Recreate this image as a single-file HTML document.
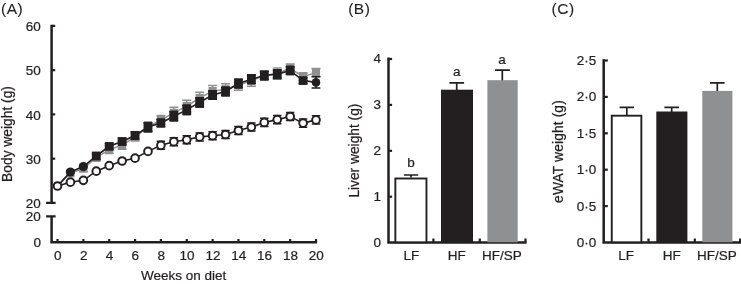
<!DOCTYPE html>
<html><head><meta charset="utf-8"><title>Figure</title>
<style>
html,body{margin:0;padding:0;background:#fff;}
body{width:741px;height:284px;overflow:hidden;}
svg{display:block;filter:blur(0.35px);}
text{font-family:"Liberation Sans",Arial,Helvetica,sans-serif;font-size:13.5px;fill:#231f20;stroke:#231f20;stroke-width:0.22px;}
.pl{font-size:15.5px;letter-spacing:0.5px;stroke-width:0.1px;}
.ax{stroke:#231f20;stroke-width:2.5;fill:none;stroke-linecap:butt;}
.tk{stroke:#231f20;stroke-width:2.2;fill:none;}
.eb{stroke:#231f20;stroke-width:1.7;fill:none;}
</style></head><body>
<svg width="741" height="284" viewBox="0 0 741 284">
<rect width="741" height="284" fill="#fff"/>

<g id="panelA">
<text class="pl" x="1" y="14.2">(A)</text>
<path class="ax" d="M51.6 24.8V203M51.6 216.3V243.6M50.3 242.35H317.1"/>
<path class="tk" d="M51.6 25.9H55.2"/>
<path class="tk" d="M51.6 70.15H55.2"/>
<path class="tk" d="M51.6 114.4H55.2"/>
<path class="tk" d="M51.6 158.65H55.2"/>
<path class="tk" d="M46.1 202.9H55.6M46.1 216.4H55.6" style="stroke-width:2.1"/>
<path class="tk" d="M57.50 242V238.9M83.35 242V238.9M109.20 242V238.9M135.05 242V238.9M160.90 242V238.9M186.75 242V238.9M212.60 242V238.9M238.45 242V238.9M264.30 242V238.9M290.15 242V238.9M316.00 242V238.9"/>
<text x="40.9" y="30.95" text-anchor="end">60</text>
<text x="40.9" y="75.25" text-anchor="end">50</text>
<text x="40.9" y="119.65" text-anchor="end">40</text>
<text x="40.9" y="163.95" text-anchor="end">30</text>
<text x="40.9" y="207.65" text-anchor="end">20</text>
<text x="40.9" y="221.25" text-anchor="end">20</text>
<text x="40.9" y="247.05" text-anchor="end">0</text>
<text x="57.80" y="259.9" text-anchor="middle">0</text>
<text x="83.65" y="259.9" text-anchor="middle">2</text>
<text x="109.50" y="259.9" text-anchor="middle">4</text>
<text x="135.35" y="259.9" text-anchor="middle">6</text>
<text x="161.20" y="259.9" text-anchor="middle">8</text>
<text x="187.05" y="259.9" text-anchor="middle">10</text>
<text x="212.90" y="259.9" text-anchor="middle">12</text>
<text x="238.75" y="259.9" text-anchor="middle">14</text>
<text x="264.60" y="259.9" text-anchor="middle">16</text>
<text x="290.45" y="259.9" text-anchor="middle">18</text>
<text x="316.30" y="259.9" text-anchor="middle">20</text>
<text x="183.6" y="280.4" text-anchor="middle">Weeks on diet</text>
<text transform="translate(11.6 134) rotate(-90)" text-anchor="middle" style="font-size:13.8px">Body weight (g)</text>
<polyline points="57.50,186 70.42,173.2 83.35,168.6 96.28,157.5 109.20,149.6 122.12,145.2 135.05,136.9 147.98,127.2 160.90,120 173.82,112.8 186.75,106.1 199.68,98 212.60,91.1 225.53,89.3 238.45,85 251.38,80.8 264.30,75.5 277.23,73.5 290.15,68.3 303.08,76.7 316.00,72.6" fill="none" stroke="#8e9092" stroke-width="1.5"/>
<rect x="66.33" y="169.10" width="8.2" height="8.2" fill="#8e9092"/>
<path d="M83.35 165.6V171.6M78.85 165.6H87.85M78.85 171.6H87.85" stroke="#8e9092" stroke-width="1.5" fill="none"/>
<rect x="79.25" y="164.50" width="8.2" height="8.2" fill="#8e9092"/>
<path d="M96.28 154.1V160.9M91.78 154.1H100.78M91.78 160.9H100.78" stroke="#8e9092" stroke-width="1.5" fill="none"/>
<rect x="92.18" y="153.40" width="8.2" height="8.2" fill="#8e9092"/>
<path d="M109.20 145.6V153.6M104.70 145.6H113.70M104.70 153.6H113.70" stroke="#8e9092" stroke-width="1.5" fill="none"/>
<rect x="105.10" y="145.50" width="8.2" height="8.2" fill="#8e9092"/>
<path d="M122.12 141.2V149.2M117.62 141.2H126.62M117.62 149.2H126.62" stroke="#8e9092" stroke-width="1.5" fill="none"/>
<rect x="118.03" y="141.10" width="8.2" height="8.2" fill="#8e9092"/>
<path d="M135.05 132.9V140.9M130.55 132.9H139.55M130.55 140.9H139.55" stroke="#8e9092" stroke-width="1.5" fill="none"/>
<rect x="130.95" y="132.80" width="8.2" height="8.2" fill="#8e9092"/>
<path d="M147.98 123.2V131.2M143.48 123.2H152.48M143.48 131.2H152.48" stroke="#8e9092" stroke-width="1.5" fill="none"/>
<rect x="143.88" y="123.10" width="8.2" height="8.2" fill="#8e9092"/>
<path d="M160.90 115.4V124.6M156.40 115.4H165.40M156.40 124.6H165.40" stroke="#8e9092" stroke-width="1.5" fill="none"/>
<rect x="156.80" y="115.90" width="8.2" height="8.2" fill="#8e9092"/>
<path d="M173.82 107.2V118.39999999999999M169.32 107.2H178.32M169.32 118.39999999999999H178.32" stroke="#8e9092" stroke-width="1.5" fill="none"/>
<rect x="169.72" y="108.70" width="8.2" height="8.2" fill="#8e9092"/>
<path d="M186.75 100.3V111.89999999999999M182.25 100.3H191.25M182.25 111.89999999999999H191.25" stroke="#8e9092" stroke-width="1.5" fill="none"/>
<rect x="182.65" y="102.00" width="8.2" height="8.2" fill="#8e9092"/>
<path d="M199.68 92.2V103.8M195.18 92.2H204.18M195.18 103.8H204.18" stroke="#8e9092" stroke-width="1.5" fill="none"/>
<rect x="195.58" y="93.90" width="8.2" height="8.2" fill="#8e9092"/>
<path d="M212.60 85.5V96.69999999999999M208.10 85.5H217.10M208.10 96.69999999999999H217.10" stroke="#8e9092" stroke-width="1.5" fill="none"/>
<rect x="208.50" y="87.00" width="8.2" height="8.2" fill="#8e9092"/>
<path d="M225.53 83.7V94.89999999999999M221.03 83.7H230.03M221.03 94.89999999999999H230.03" stroke="#8e9092" stroke-width="1.5" fill="none"/>
<rect x="221.43" y="85.20" width="8.2" height="8.2" fill="#8e9092"/>
<path d="M238.45 79.8V90.2M233.95 79.8H242.95M233.95 90.2H242.95" stroke="#8e9092" stroke-width="1.5" fill="none"/>
<rect x="234.35" y="80.90" width="8.2" height="8.2" fill="#8e9092"/>
<path d="M251.38 75.39999999999999V86.2M246.88 75.39999999999999H255.88M246.88 86.2H255.88" stroke="#8e9092" stroke-width="1.5" fill="none"/>
<rect x="247.28" y="76.70" width="8.2" height="8.2" fill="#8e9092"/>
<path d="M264.30 71.5V79.5M259.80 71.5H268.80M259.80 79.5H268.80" stroke="#8e9092" stroke-width="1.5" fill="none"/>
<rect x="260.20" y="71.40" width="8.2" height="8.2" fill="#8e9092"/>
<path d="M277.23 68.0V79.0M272.73 68.0H281.73M272.73 79.0H281.73" stroke="#8e9092" stroke-width="1.5" fill="none"/>
<rect x="273.12" y="69.40" width="8.2" height="8.2" fill="#8e9092"/>
<path d="M290.15 63.9V72.7M285.65 63.9H294.65M285.65 72.7H294.65" stroke="#8e9092" stroke-width="1.5" fill="none"/>
<rect x="286.05" y="64.20" width="8.2" height="8.2" fill="#8e9092"/>
<path d="M303.08 72.7V80.7M298.58 72.7H307.58M298.58 80.7H307.58" stroke="#8e9092" stroke-width="1.5" fill="none"/>
<rect x="298.98" y="72.60" width="8.2" height="8.2" fill="#8e9092"/>
<path d="M316.00 68.6V76.6M311.50 68.6H320.50M311.50 76.6H320.50" stroke="#8e9092" stroke-width="1.5" fill="none"/>
<rect x="311.90" y="68.50" width="8.2" height="8.2" fill="#8e9092"/>
<polyline points="57.50,186 70.42,172 83.35,166.6 96.28,156 109.20,146.3 122.12,141.5 135.05,135.5 147.98,127.1 160.90,123 173.82,116.2 186.75,109.9 199.68,102.3 212.60,95 225.53,91.5 238.45,83.5 251.38,79.2 264.30,75.5 277.23,74.1 290.15,70.6 303.08,80.6 316.00,82.4" fill="none" stroke="#231f20" stroke-width="1.6"/>
<circle cx="70.42" cy="172" r="4.6" fill="#231f20"/>
<circle cx="83.35" cy="166.6" r="4.6" fill="#231f20"/>
<path d="M96.28 152.6V159.4M91.88 152.6H100.68M91.88 159.4H100.68" stroke="#231f20" stroke-width="1.6" fill="none"/>
<rect x="91.88" y="151.80" width="8.8" height="8.40" rx="1" fill="#231f20"/>
<path d="M109.20 143.0V149.60000000000002M104.80 143.0H113.60M104.80 149.60000000000002H113.60" stroke="#231f20" stroke-width="1.6" fill="none"/>
<rect x="104.80" y="142.20" width="8.8" height="8.20" rx="1" fill="#231f20"/>
<path d="M122.12 138.0V145.0M117.72 138.0H126.53M117.72 145.0H126.53" stroke="#231f20" stroke-width="1.6" fill="none"/>
<rect x="117.72" y="137.20" width="8.8" height="8.60" rx="1" fill="#231f20"/>
<path d="M135.05 131.8V139.2M130.65 131.8H139.45M130.65 139.2H139.45" stroke="#231f20" stroke-width="1.6" fill="none"/>
<rect x="130.65" y="131.00" width="8.8" height="9.00" rx="1" fill="#231f20"/>
<path d="M147.98 122.5V131.7M143.58 122.5H152.38M143.58 131.7H152.38" stroke="#231f20" stroke-width="1.6" fill="none"/>
<rect x="143.58" y="121.70" width="8.8" height="10.80" rx="1" fill="#231f20"/>
<path d="M160.90 119.2V126.8M156.50 119.2H165.30M156.50 126.8H165.30" stroke="#231f20" stroke-width="1.6" fill="none"/>
<rect x="156.50" y="118.40" width="8.8" height="9.20" rx="1" fill="#231f20"/>
<path d="M173.82 111.60000000000001V120.8M169.42 111.60000000000001H178.22M169.42 120.8H178.22" stroke="#231f20" stroke-width="1.6" fill="none"/>
<rect x="169.42" y="110.80" width="8.8" height="10.80" rx="1" fill="#231f20"/>
<path d="M186.75 105.30000000000001V114.5M182.35 105.30000000000001H191.15M182.35 114.5H191.15" stroke="#231f20" stroke-width="1.6" fill="none"/>
<rect x="182.35" y="104.50" width="8.8" height="10.80" rx="1" fill="#231f20"/>
<path d="M199.68 97.7V106.89999999999999M195.28 97.7H204.08M195.28 106.89999999999999H204.08" stroke="#231f20" stroke-width="1.6" fill="none"/>
<rect x="195.28" y="96.90" width="8.8" height="10.80" rx="1" fill="#231f20"/>
<path d="M212.60 90.7V99.3M208.20 90.7H217.00M208.20 99.3H217.00" stroke="#231f20" stroke-width="1.6" fill="none"/>
<rect x="208.20" y="89.90" width="8.8" height="10.20" rx="1" fill="#231f20"/>
<path d="M225.53 87.3V95.7M221.12 87.3H229.93M221.12 95.7H229.93" stroke="#231f20" stroke-width="1.6" fill="none"/>
<rect x="221.12" y="86.50" width="8.8" height="10.00" rx="1" fill="#231f20"/>
<path d="M238.45 79.2V87.8M234.05 79.2H242.85M234.05 87.8H242.85" stroke="#231f20" stroke-width="1.6" fill="none"/>
<rect x="234.05" y="78.40" width="8.8" height="10.20" rx="1" fill="#231f20"/>
<path d="M251.38 74.9V83.5M246.97 74.9H255.78M246.97 83.5H255.78" stroke="#231f20" stroke-width="1.6" fill="none"/>
<rect x="246.97" y="74.10" width="8.8" height="10.20" rx="1" fill="#231f20"/>
<path d="M264.30 71.2V79.8M259.90 71.2H268.70M259.90 79.8H268.70" stroke="#231f20" stroke-width="1.6" fill="none"/>
<rect x="259.90" y="70.40" width="8.8" height="10.20" rx="1" fill="#231f20"/>
<path d="M277.23 69.8V78.39999999999999M272.83 69.8H281.62M272.83 78.39999999999999H281.62" stroke="#231f20" stroke-width="1.6" fill="none"/>
<rect x="272.83" y="69.00" width="8.8" height="10.20" rx="1" fill="#231f20"/>
<path d="M290.15 66.64999999999999V74.55M285.75 66.64999999999999H294.55M285.75 74.55H294.55" stroke="#231f20" stroke-width="1.6" fill="none"/>
<rect x="285.75" y="65.85" width="8.8" height="9.50" rx="1" fill="#231f20"/>
<path d="M303.08 77.3V83.89999999999999M298.68 77.3H307.48M298.68 83.89999999999999H307.48" stroke="#231f20" stroke-width="1.6" fill="none"/>
<rect x="298.68" y="76.50" width="8.8" height="8.20" rx="1" fill="#231f20"/>
<path d="M316.00 76.80000000000001V88.0M311.60 76.80000000000001H320.40M311.60 88.0H320.40" stroke="#231f20" stroke-width="1.6" fill="none"/>
<circle cx="316.00" cy="82.4" r="4.3" fill="#231f20"/>
<polyline points="57.50,186 70.42,182.2 83.35,180.3 96.28,171.2 109.20,165.7 122.12,161 135.05,158.2 147.98,151.4 160.90,145.3 173.82,141.7 186.75,139.8 199.68,136.9 212.60,135.7 225.53,134.5 238.45,130.5 251.38,127 264.30,122.4 277.23,119.6 290.15,116.5 303.08,123.1 316.00,119.9" fill="none" stroke="#231f20" stroke-width="1.6"/>
<circle cx="57.50" cy="186" r="3.85" fill="#fff" stroke="#231f20" stroke-width="1.95"/>
<circle cx="70.42" cy="182.2" r="3.85" fill="#fff" stroke="#231f20" stroke-width="1.95"/>
<circle cx="83.35" cy="180.3" r="3.85" fill="#fff" stroke="#231f20" stroke-width="1.95"/>
<circle cx="96.28" cy="171.2" r="3.85" fill="#fff" stroke="#231f20" stroke-width="1.95"/>
<circle cx="109.20" cy="165.7" r="3.85" fill="#fff" stroke="#231f20" stroke-width="1.95"/>
<circle cx="122.12" cy="161" r="3.85" fill="#fff" stroke="#231f20" stroke-width="1.95"/>
<circle cx="135.05" cy="158.2" r="3.85" fill="#fff" stroke="#231f20" stroke-width="1.95"/>
<circle cx="147.98" cy="151.4" r="3.85" fill="#fff" stroke="#231f20" stroke-width="1.95"/>
<path d="M156.70 141.3H165.10M156.70 149.3H165.10" stroke="#231f20" stroke-width="1.5" fill="none"/>
<circle cx="160.90" cy="145.3" r="3.85" fill="#fff" stroke="#231f20" stroke-width="1.95"/>
<path d="M169.62 137.7H178.02M169.62 145.7H178.02" stroke="#231f20" stroke-width="1.5" fill="none"/>
<circle cx="173.82" cy="141.7" r="3.85" fill="#fff" stroke="#231f20" stroke-width="1.95"/>
<path d="M182.55 135.8H190.95M182.55 143.8H190.95" stroke="#231f20" stroke-width="1.5" fill="none"/>
<circle cx="186.75" cy="139.8" r="3.85" fill="#fff" stroke="#231f20" stroke-width="1.95"/>
<path d="M195.48 132.9H203.88M195.48 140.9H203.88" stroke="#231f20" stroke-width="1.5" fill="none"/>
<circle cx="199.68" cy="136.9" r="3.85" fill="#fff" stroke="#231f20" stroke-width="1.95"/>
<path d="M208.40 131.7H216.80M208.40 139.7H216.80" stroke="#231f20" stroke-width="1.5" fill="none"/>
<circle cx="212.60" cy="135.7" r="3.85" fill="#fff" stroke="#231f20" stroke-width="1.95"/>
<path d="M221.33 130.5H229.72M221.33 138.5H229.72" stroke="#231f20" stroke-width="1.5" fill="none"/>
<circle cx="225.53" cy="134.5" r="3.85" fill="#fff" stroke="#231f20" stroke-width="1.95"/>
<path d="M234.25 126.5H242.65M234.25 134.5H242.65" stroke="#231f20" stroke-width="1.5" fill="none"/>
<circle cx="238.45" cy="130.5" r="3.85" fill="#fff" stroke="#231f20" stroke-width="1.95"/>
<path d="M247.18 123.0H255.57M247.18 131.0H255.57" stroke="#231f20" stroke-width="1.5" fill="none"/>
<circle cx="251.38" cy="127" r="3.85" fill="#fff" stroke="#231f20" stroke-width="1.95"/>
<path d="M260.10 118.30000000000001H268.50M260.10 126.5H268.50" stroke="#231f20" stroke-width="1.5" fill="none"/>
<circle cx="264.30" cy="122.4" r="3.85" fill="#fff" stroke="#231f20" stroke-width="1.95"/>
<path d="M273.03 115.5H281.43M273.03 123.69999999999999H281.43" stroke="#231f20" stroke-width="1.5" fill="none"/>
<circle cx="277.23" cy="119.6" r="3.85" fill="#fff" stroke="#231f20" stroke-width="1.95"/>
<path d="M285.95 112.4H294.35M285.95 120.6H294.35" stroke="#231f20" stroke-width="1.5" fill="none"/>
<circle cx="290.15" cy="116.5" r="3.85" fill="#fff" stroke="#231f20" stroke-width="1.95"/>
<path d="M298.88 119.0H307.28M298.88 127.19999999999999H307.28" stroke="#231f20" stroke-width="1.5" fill="none"/>
<circle cx="303.08" cy="123.1" r="3.85" fill="#fff" stroke="#231f20" stroke-width="1.95"/>
<path d="M311.80 115.80000000000001H320.20M311.80 124.0H320.20" stroke="#231f20" stroke-width="1.5" fill="none"/>
<circle cx="316.00" cy="119.9" r="3.85" fill="#fff" stroke="#231f20" stroke-width="1.95"/>
</g>
<g id="panelB">
<text class="pl" x="348.2" y="14.2">(B)</text>
<path class="ax" d="M388.5 57.6V243.6M387.2 242.4H526.6"/>
<path class="tk" d="M388.5 196.70H392.1"/>
<path class="tk" d="M388.5 150.80H392.1"/>
<path class="tk" d="M388.5 104.90H392.1"/>
<path class="tk" d="M388.5 59.00H392.1"/>
<path class="tk" d="M433.4 242V238.6M479.8 242V238.6M525.5 242V238.6"/>
<text x="381" y="246.90" text-anchor="end">0</text>
<text x="381" y="201.00" text-anchor="end">1</text>
<text x="381" y="155.10" text-anchor="end">2</text>
<text x="381" y="109.20" text-anchor="end">3</text>
<text x="381" y="63.30" text-anchor="end">4</text>
<text transform="translate(359.4 150.6) rotate(-90)" text-anchor="middle" style="font-size:13.75px">Liver weight (g)</text>
<path class="eb" d="M411 177.6V175M403.9 175H418.2"/>
<rect x="395.35" y="178.5" width="31.1" height="63.8" fill="#fff" stroke="#231f20" stroke-width="1.9"/>
<path class="eb" d="M456.7 90V82.8M449.4 82.8H464.1"/>
<rect x="441" y="89.7" width="32" height="152.6" fill="#231f20"/>
<path class="eb" d="M502.3 81V70.1M495 70.1H509.8"/>
<rect x="487.4" y="80.2" width="30.3" height="162.1" fill="#8e9092"/>
<text x="411" y="167.2" text-anchor="middle">b</text>
<text x="456.7" y="75.5" text-anchor="middle">a</text>
<text x="502" y="63.6" text-anchor="middle">a</text>
<text x="411.3" y="259.9" text-anchor="middle">LF</text>
<text x="456.8" y="259.9" text-anchor="middle">HF</text>
<text x="502" y="259.9" text-anchor="middle">HF/SP</text>
</g>
<g id="panelC">
<text class="pl" x="551.6" y="14.2">(C)</text>
<path class="ax" d="M603.7 59.3V243.6M602.4 242.4H741"/>
<path class="tk" d="M603.7 206.10H607.8"/>
<path class="tk" d="M603.7 169.70H607.8"/>
<path class="tk" d="M603.7 133.30H607.8"/>
<path class="tk" d="M603.7 96.90H607.8"/>
<path class="tk" d="M603.7 60.50H607.8"/>
<path class="tk" d="M648.5 242V238.6M694.8 242V238.6M740.2 242V238.6"/>
<text x="596.3" y="246.90" text-anchor="end">0·0</text>
<text x="596.3" y="210.50" text-anchor="end">0·5</text>
<text x="596.3" y="174.10" text-anchor="end">1·0</text>
<text x="596.3" y="137.70" text-anchor="end">1·5</text>
<text x="596.3" y="101.30" text-anchor="end">2·0</text>
<text x="596.3" y="64.90" text-anchor="end">2·5</text>
<text transform="translate(562.7 151.5) rotate(-90)" text-anchor="middle" style="font-size:13.8px;letter-spacing:0.12px">eWAT weight (g)</text>
<path class="eb" d="M626.8 115V107.3M619.6 107.3H634"/>
<rect x="611.75" y="115.7" width="29.6" height="126.6" fill="#fff" stroke="#231f20" stroke-width="1.9"/>
<path class="eb" d="M671.7 112V107.3M664.4 107.3H679"/>
<rect x="656.3" y="111.5" width="31.1" height="130.8" fill="#231f20"/>
<path class="eb" d="M717.3 92V82.9M710 82.9H724.6"/>
<rect x="702.3" y="90.9" width="30.1" height="151.4" fill="#8e9092"/>
<text x="626.2" y="259.9" text-anchor="middle">LF</text>
<text x="671.7" y="259.9" text-anchor="middle">HF</text>
<text x="716.8" y="259.9" text-anchor="middle">HF/SP</text>
</g>
</svg></body></html>
